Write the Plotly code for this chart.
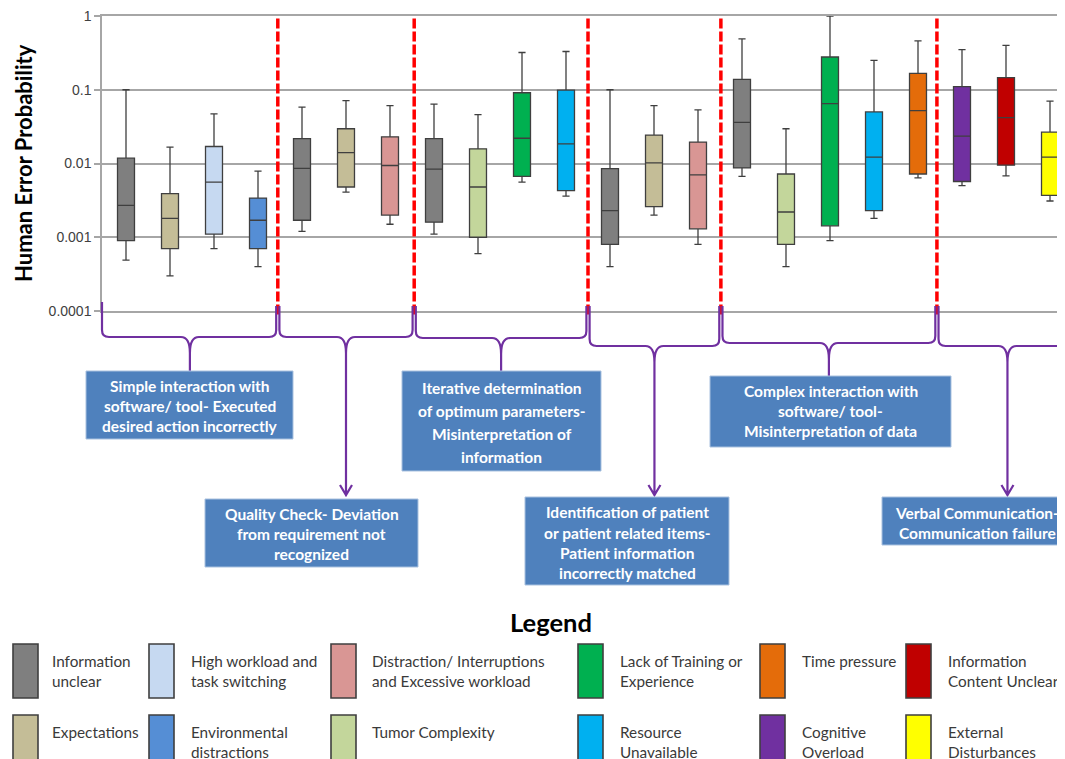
import plotly.graph_objects as go

# ---------------- data ----------------
factors = [
    "Information unclear", "Expectations", "High workload and task switching", "Environmental distractions",
    "Information unclear", "Expectations", "Distraction/ Interruptions and Excessive workload",
    "Information unclear", "Tumor Complexity", "Lack of Training or Experience", "Resource Unavailable",
    "Information unclear", "Expectations", "Distraction/ Interruptions and Excessive workload",
    "Information unclear", "Tumor Complexity", "Lack of Training or Experience", "Resource Unavailable", "Time pressure",
    "Cognitive Overload", "Information Content Unclear", "External Disturbances",
]
lower = [0.00049, 0.0003, 0.0007, 0.0004,
         0.0012, 0.0041, 0.0015,
         0.0011, 0.0006, 0.0056, 0.0036,
         0.0004, 0.002, 0.0008,
         0.0067, 0.0004, 0.0009, 0.0018, 0.0064,
         0.005, 0.0068, 0.0031]
q1 = [0.0009, 0.0007, 0.0011, 0.0007,
      0.0017, 0.0048, 0.002,
      0.0016, 0.001, 0.0067, 0.0043,
      0.0008, 0.0026, 0.0013,
      0.0087, 0.0008, 0.00143, 0.0023, 0.0072,
      0.0057, 0.0095, 0.0037]
median = [0.0027, 0.0018, 0.0056, 0.0017,
          0.0086, 0.014, 0.0094,
          0.0084, 0.0048, 0.022, 0.0185,
          0.0023, 0.0102, 0.007,
          0.036, 0.0022, 0.065, 0.0122, 0.052,
          0.0235, 0.042, 0.0122]
q3 = [0.0118, 0.0039, 0.017, 0.0034,
      0.0218, 0.0296, 0.023,
      0.0218, 0.0158, 0.091, 0.099,
      0.0085, 0.0243, 0.0195,
      0.138, 0.0072, 0.278, 0.05, 0.167,
      0.11, 0.146, 0.0266]
upper = [0.1, 0.0167, 0.047, 0.0079,
         0.058, 0.071, 0.061,
         0.064, 0.046, 0.32, 0.33,
         0.1, 0.061, 0.0535,
         0.49, 0.0296, 1.0, 0.25, 0.46,
         0.35, 0.4, 0.07]

# group separators (in box-index units) and group descriptions
separators = [3.45, 6.55, 10.5, 13.52, 18.43]
group_labels = [
    ["Simple interaction with", "software/ tool- Executed", "desired action incorrectly"],
    ["Quality Check- Deviation", "from requirement not", "recognized"],
    ["Iterative determination", "of optimum parameters-", "Misinterpretation of", "information"],
    ["Identification of patient", "or patient related items-", "Patient information", "incorrectly matched"],
    ["Complex interaction with", "software/ tool-", "Misinterpretation of data"],
    ["Verbal Communication-", "Communication failure"],
]

tick_vals = [0.0001, 0.001, 0.01, 0.1, 1]
tick_text = ["0.0001", "0.001", "0.01", "0.1", "1"]

factor_colors = {
    "Information unclear": "#7F7F7F",
    "Expectations": "#C4BD97",
    "High workload and task switching": "#C6D9F1",
    "Environmental distractions": "#558ED5",
    "Distraction/ Interruptions and Excessive workload": "#D99694",
    "Tumor Complexity": "#C3D69B",
    "Lack of Training or Experience": "#00B050",
    "Resource Unavailable": "#00B0F0",
    "Time pressure": "#E46C0A",
    "Cognitive Overload": "#7030A0",
    "Information Content Unclear": "#C00000",
    "External Disturbances": "#FFFF00",
}

legend_rows = [
    [("Information unclear", ["Information", "unclear"]),
     ("High workload and task switching", ["High workload and", "task switching"]),
     ("Distraction/ Interruptions and Excessive workload", ["Distraction/ Interruptions", "and Excessive workload"]),
     ("Lack of Training or Experience", ["Lack of Training or", "Experience"]),
     ("Time pressure", ["Time pressure"]),
     ("Information Content Unclear", ["Information", "Content Unclear"])],
    [("Expectations", ["Expectations"]),
     ("Environmental distractions", ["Environmental", "distractions"]),
     ("Tumor Complexity", ["Tumor Complexity"]),
     ("Resource Unavailable", ["Resource", "Unavailable"]),
     ("Cognitive Overload", ["Cognitive", "Overload"]),
     ("External Disturbances", ["External", "Disturbances"])],
]

# ---------------- geometry ----------------
# Screen pixel coordinates below; the page body adds an 8px offset, compensated here.
OFF = 8
W_FIG, H_FIG = 1065, 759
L, R, T, B = 102, 1065, 16, 311          # plot area in screen pixels
PW, PH = R - L, B - T
X_MIN = -24 / 44
X_MAX = X_MIN + PW / 44


def px(xp):
    return (xp - L) / PW


def py(yp):
    return (B - yp) / PH


def d2p(xd):
    return L + (xd - X_MIN) / (X_MAX - X_MIN) * PW


def P(xp, yp):
    return f"{px(xp):.5f},{py(yp):.5f}"


fig = go.Figure()

for i, f in enumerate(factors):
    fig.add_trace(go.Box(
        x=[i], q1=[q1[i]], median=[median[i]], q3=[q3[i]],
        lowerfence=[lower[i]], upperfence=[upper[i]],
        fillcolor=factor_colors[f], line=dict(color="#3F3F3F", width=1.3),
        width=0.386, whiskerwidth=0.42, boxpoints=False, showlegend=False,
        name=f, hoverinfo="skip",
    ))

shapes = []
annotations = []

# red dashed separators
for s in separators:
    shapes.append(dict(type="line", xref="x", yref="paper", x0=s, x1=s, y0=-0.012, y1=1.0,
                       line=dict(color="#FF0000", width=3.5, dash="10px,3px"), layer="above"))

# braces
purple = "#7030A0"
bounds = [L] + [d2p(s) for s in separators] + [1078]
brace_y = [337, 337, 338, 346, 343, 346]
targets = [371, 495, 371, 495, 376, 495]
arrow = [False, True, False, True, False, True]
for g in range(6):
    xa = bounds[g] + (0 if g == 0 else 1.6)
    xb = bounds[g + 1] - 1.6
    yta = 302 if g == 0 else 306
    ytb = 306
    yh = brace_y[g]
    xc = (bounds[g] + bounds[g + 1]) / 2
    r, c, dip = 7, 9, 16
    path = (f"M{P(xa, yta)} L{P(xa, yh - r)} Q{P(xa, yh)} {P(xa + r, yh)} "
            f"L{P(xc - c, yh)} Q{P(xc, yh)} {P(xc, yh + dip)} "
            f"M{P(xb, ytb)} L{P(xb, yh - r)} Q{P(xb, yh)} {P(xb - r, yh)} "
            f"L{P(xc + c, yh)} Q{P(xc, yh)} {P(xc, yh + dip)} "
            f"L{P(xc, targets[g])}")
    if arrow[g]:
        path += f" M{P(xc - 6, targets[g] - 10)} L{P(xc, targets[g])} L{P(xc + 6, targets[g] - 10)}"
    shapes.append(dict(type="path", xref="paper", yref="paper", path=path,
                       line=dict(color=purple, width=2.2)))

# description boxes (screen-pixel rectangles) and text lines
box_rects = [(86, 371, 293, 439), (205, 499, 418, 567), (402, 371, 601, 471),
             (525, 497, 729, 585), (710, 376, 951, 447), (882, 497, 1072, 545)]
line_ys = [[386, 406, 426], [514, 534, 554], [388, 411, 434, 457],
           [512, 533, 553, 573], [391, 411, 431], [513, 533]]
for (x0, y0, x1, y1), lines, ys in zip(box_rects, group_labels, line_ys):
    shapes.append(dict(type="rect", xref="paper", yref="paper",
                       x0=px(x0), x1=px(x1), y0=py(y0), y1=py(y1),
                       fillcolor="#4F81BD", line=dict(color="#A9C1DF", width=1)))
    cx = (x0 + x1) / 2
    for t, yy in zip(lines, ys):
        annotations.append(dict(xref="paper", yref="paper", x=px(cx), y=py(yy), text=f"<b>{t}</b>",
                                showarrow=False, xanchor="center", yanchor="middle",
                                font=dict(family="Lato", size=15.5, color="white")))

# y-axis title
annotations.append(dict(xref="paper", yref="paper", x=px(23), y=py(163), text="<b>Human Error Probability</b>",
                        textangle=-90, showarrow=False, xanchor="center", yanchor="middle",
                        font=dict(family="Lato", size=22, color="black")))

# legend
annotations.append(dict(xref="paper", yref="paper", x=px(551), y=py(622), text="<b>Legend</b>",
                        showarrow=False, xanchor="center", yanchor="middle",
                        font=dict(family="Lato", size=25.5, color="black")))
sw_x = [13, 149, 331, 578, 760, 906]
tx_x = [50, 189, 370, 618, 800, 946]
sw_y = [644, 715]
txt_y = [[661, 681], [732, 752]]
for r_i, row in enumerate(legend_rows):
    for c_i, (fac, lines) in enumerate(row):
        shapes.append(dict(type="rect", xref="paper", yref="paper",
                           x0=px(sw_x[c_i]), x1=px(sw_x[c_i] + 25), y0=py(sw_y[r_i]), y1=py(sw_y[r_i] + 54),
                           fillcolor=factor_colors[fac], line=dict(color="#3F3F3F", width=1.6)))
        for t, yy in zip(lines, txt_y[r_i]):
            annotations.append(dict(xref="paper", yref="paper", x=px(tx_x[c_i]), y=py(yy), text=t,
                                    showarrow=False, xanchor="left", yanchor="middle",
                                    font=dict(family="Lato", size=15.3, color="#3A3A3A")))

fig.update_layout(
    width=W_FIG, height=H_FIG,
    margin=dict(l=L - OFF, r=W_FIG - (R - OFF), t=T - OFF, b=H_FIG - (B - OFF), autoexpand=False),
    paper_bgcolor="white", plot_bgcolor="white",
    shapes=shapes, annotations=annotations, boxmode="overlay",
    xaxis=dict(range=[X_MIN, X_MAX], showgrid=False, zeroline=False, showticklabels=False,
               ticks="", showline=True, mirror=True, linecolor="#A6A6A6", linewidth=1.5),
    yaxis=dict(type="log", range=[-4, 0], tickvals=tick_vals, ticktext=tick_text,
               showgrid=True, gridcolor="#A6A6A6", gridwidth=1.5, zeroline=False,
               showline=True, linecolor="#A6A6A6", linewidth=1.5,
               ticks="outside", ticklen=6, tickcolor="#A6A6A6", tickwidth=1.5,
               ticklabeloverflow="allow",
               tickfont=dict(family="Liberation Sans", size=14, color="#404040")),
    font=dict(family="Lato"),
)

fig.write_html("out.html")
